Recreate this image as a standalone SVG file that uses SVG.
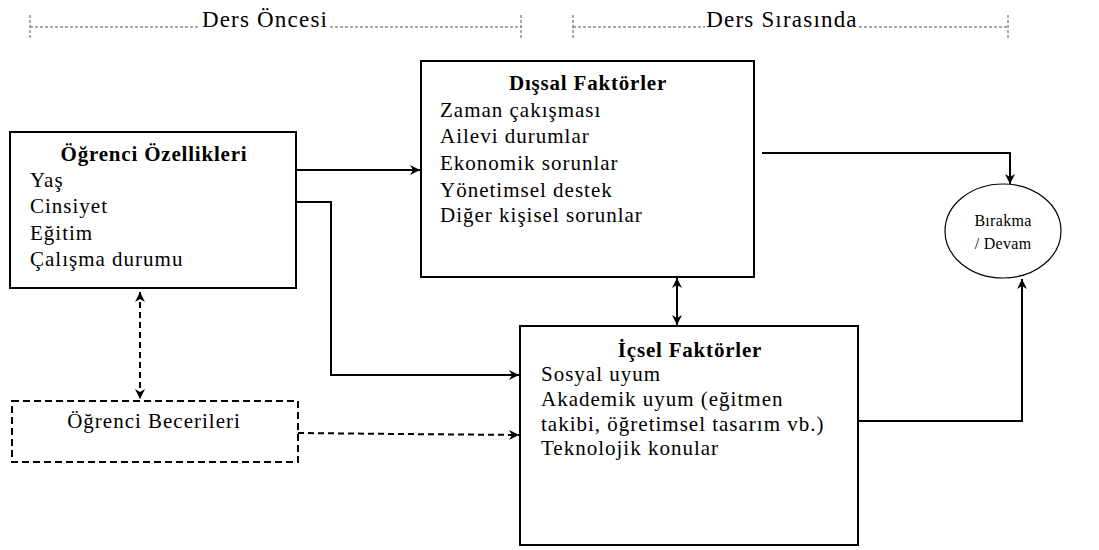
<svg xmlns="http://www.w3.org/2000/svg" width="1099" height="550" viewBox="0 0 1099 550">
<defs>
<marker id="ah" viewBox="0 0 10 10" refX="10" refY="5" markerWidth="11" markerHeight="10" markerUnits="userSpaceOnUse" orient="auto-start-reverse">
<path d="M0,0 L10,5 L0,10 L3,5 Z" fill="#000"/>
</marker>
</defs>
<style>
text{font-family:"Liberation Serif","Times New Roman",serif;fill:#000}
.t{font-size:21px;letter-spacing:1px}
.b{font-size:21px;font-weight:bold;letter-spacing:0.8px}
.h{font-size:23px;letter-spacing:1.2px}
.e{font-size:16px;letter-spacing:0.3px}
.box{fill:#fff;stroke:#000;stroke-width:2}
.dbox{fill:#fff;stroke:#000;stroke-width:2;stroke-dasharray:7,4}
.c{fill:none;stroke:#000;stroke-width:2}
.d{fill:none;stroke:#000;stroke-width:2;stroke-dasharray:6,4}
.g{fill:none;stroke:#555;stroke-width:1;stroke-dasharray:3,2}
</style>
<g id="phase-before">
<line class="g" x1="30" y1="27" x2="199" y2="27"/>
<line class="g" x1="330" y1="27" x2="521" y2="27"/>
<line class="g" x1="30" y1="15" x2="30" y2="38"/>
<line class="g" x1="521" y1="15" x2="521" y2="38"/>
<text class="h" x="265" y="27" text-anchor="middle">Ders Öncesi</text>
</g>
<g id="phase-during">
<line class="g" x1="573" y1="27" x2="705" y2="27"/>
<line class="g" x1="859" y1="27" x2="1008" y2="27"/>
<line class="g" x1="573" y1="15" x2="573" y2="38"/>
<line class="g" x1="1008" y1="15" x2="1008" y2="38"/>
<text class="h" x="782" y="27" text-anchor="middle">Ders Sırasında</text>
</g>
<g id="connectors">
<line class="c" x1="296" y1="170" x2="420" y2="170" marker-end="url(#ah)"/>
<polyline class="c" points="296,202 331,202 331,375 519,375" marker-end="url(#ah)"/>
<line class="d" x1="140" y1="292" x2="140" y2="399" marker-start="url(#ah)" marker-end="url(#ah)"/>
<polyline class="d" points="298,433 400,434 519,435" marker-end="url(#ah)"/>
<polyline class="c" points="762,153 1010,153 1010,184" marker-end="url(#ah)"/>
<line class="c" x1="677" y1="278" x2="677" y2="325" marker-start="url(#ah)" marker-end="url(#ah)"/>
<polyline class="c" points="858,421 1022,421 1022,279" marker-end="url(#ah)"/>
</g>
<g id="ogrenci-ozellikleri">
<rect class="box" x="10" y="132" width="286" height="156"/>
<text class="b" x="154" y="161" text-anchor="middle">Öğrenci Özellikleri</text>
<text class="t" x="30" y="187">Yaş</text>
<text class="t" x="30" y="213">Cinsiyet</text>
<text class="t" x="30" y="240">Eğitim</text>
<text class="t" x="30" y="266">Çalışma durumu</text>
</g>
<g id="dissal-faktorler">
<rect class="box" x="421" y="61" width="333" height="216"/>
<text class="b" x="588" y="90" text-anchor="middle">Dışsal Faktörler</text>
<text class="t" x="440" y="117">Zaman çakışması</text>
<text class="t" x="440" y="143">Ailevi durumlar</text>
<text class="t" x="440" y="170">Ekonomik sorunlar</text>
<text class="t" x="440" y="197">Yönetimsel destek</text>
<text class="t" x="440" y="222">Diğer kişisel sorunlar</text>
</g>
<g id="icsel-faktorler">
<rect class="box" x="520" y="326" width="338" height="219"/>
<text class="b" x="690" y="357" text-anchor="middle">İçsel Faktörler</text>
<text class="t" x="541" y="381">Sosyal uyum</text>
<text class="t" x="541" y="406">Akademik uyum (eğitmen</text>
<text class="t" x="541" y="431">takibi, öğretimsel tasarım vb.)</text>
<text class="t" x="541" y="455">Teknolojik konular</text>
</g>
<g id="ogrenci-becerileri">
<rect class="dbox" x="12" y="401" width="286" height="61"/>
<text class="t" x="154" y="428" text-anchor="middle">Öğrenci Becerileri</text>
</g>
<g id="birakma-devam">
<ellipse cx="1003" cy="231" rx="58" ry="47" fill="#fff" stroke="#000" stroke-width="1.2"/>
<text class="e" x="1003" y="226" text-anchor="middle">Bırakma</text>
<text class="e" x="1003" y="249" text-anchor="middle">/ Devam</text>
</g>
</svg>
